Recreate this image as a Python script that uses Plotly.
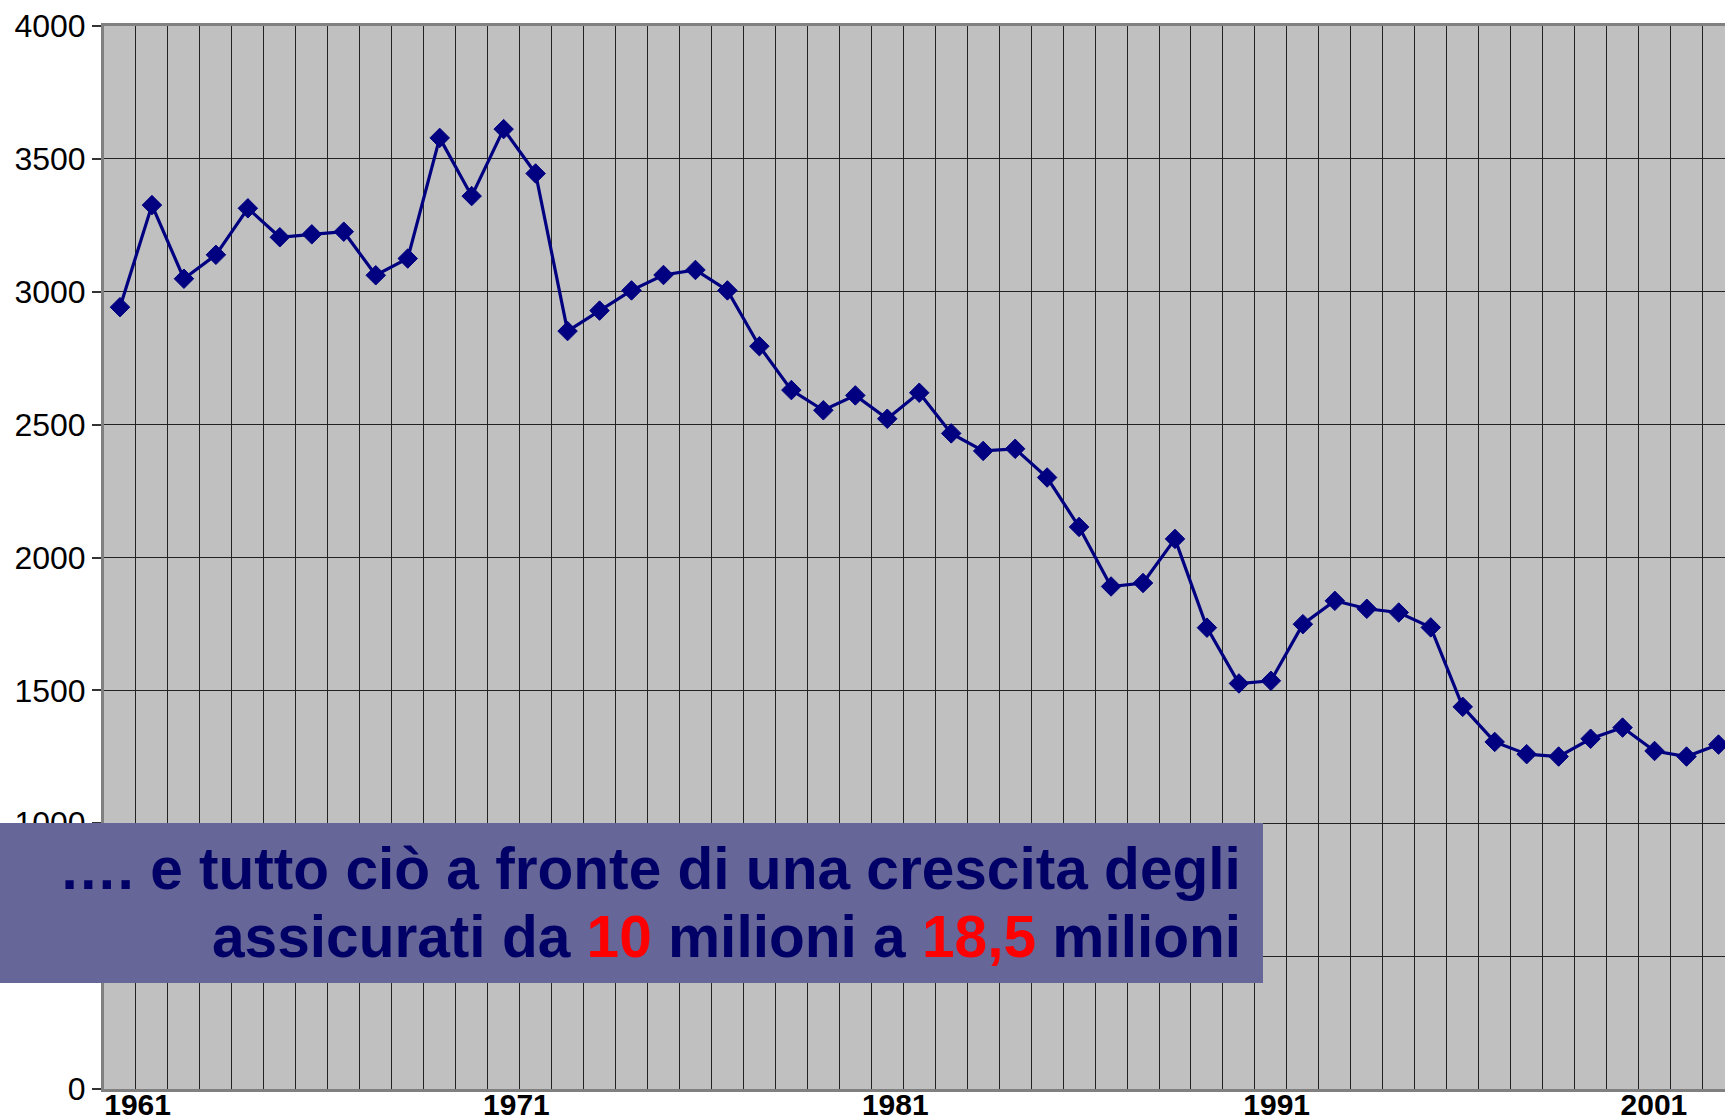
import plotly.graph_objects as go

# ---- data ----
values = [2942, 3326, 3049, 3139, 3314, 3205, 3216, 3226, 3062, 3125,
          3579, 3360, 3612, 3445, 2852, 2929, 3005, 3063, 3082, 3005,
          2795, 2630, 2554, 2610, 2522, 2620, 2467, 2401, 2409, 2301,
          2115, 1891, 1904, 2070, 1736, 1526, 1536, 1749, 1837, 1807,
          1793, 1737, 1438, 1306, 1260, 1251, 1318, 1360, 1272, 1251, 1296]
point_index = list(range(len(values)))

tick_labels = ["1961", "1971", "1981", "1991", "2001"]
tick_positions = [0.55, 12.4, 24.25, 36.18, 47.98]

y_ticks = [0, 500, 1000, 1500, 2000, 2500, 3000, 3500, 4000]

line1 = "…. e tutto ciò a fronte di una crescita degli"
line2 = ("assicurati da <span style='color:#FF0000'>10</span> milioni a "
         "<span style='color:#FF0000'>18,5</span> milioni")

# ---- layout geometry (pixels) ----
W, H = 1725, 1117
ML, MR, MT, MB = 104, 0, 26, 28
PW, PH = W - ML - MR, H - MT - MB


def px_x(p):
    return (p - ML) / PW


def px_y(p):
    return (H - MB - p) / PH


navy = "#000080"
grid = "#222222"
axis_gray = "#808080"
FONT = "Liberation Sans, Arial, sans-serif"

fig = go.Figure()
fig.add_trace(go.Scatter(
    x=point_index, y=values, mode="lines+markers",
    line=dict(color=navy, width=3.2),
    marker=dict(symbol="diamond", size=15, color=navy,
                line=dict(color=navy, width=1)),
    showlegend=False, hoverinfo="skip",
))
# invisible helper trace so that the label axis (x2) is drawn
fig.add_trace(go.Scatter(
    x=tick_positions, y=[0] * len(tick_positions), xaxis="x2", yaxis="y",
    mode="markers", marker=dict(opacity=0, size=1),
    showlegend=False, hoverinfo="skip",
))

xr = [-0.5, -0.5 + PW / 31.97]

fig.update_layout(
    width=W, height=H,
    margin=dict(l=ML, r=MR, t=MT, b=MB, pad=0),
    paper_bgcolor="white", plot_bgcolor="#C0C0C0",
    font=dict(family=FONT, color="black"),
    xaxis=dict(
        range=xr, tickmode="linear", tick0=-0.5, dtick=1,
        showticklabels=False, ticks="",
        showgrid=True, gridcolor=grid, gridwidth=1,
        showline=True, linecolor=axis_gray, linewidth=3, mirror=True,
        zeroline=False,
    ),
    xaxis2=dict(
        range=xr, overlaying="x", anchor="y", side="bottom",
        tickmode="array", tickvals=tick_positions, ticktext=tick_labels,
        tickfont=dict(family=FONT, size=30, color="black", weight="bold"),
        ticklabelstandoff=-5,
        ticks="", showgrid=False, showline=False, zeroline=False,
        automargin=False,
    ),
    yaxis=dict(
        range=[0, 4000], tickmode="array", tickvals=y_ticks,
        tickfont=dict(family=FONT, size=32, color="black"),
        ticks="outside", ticklen=9, tickwidth=1.5, tickcolor="#333333",
        showgrid=True, gridcolor=grid, gridwidth=1,
        showline=True, linecolor=axis_gray, linewidth=3,
        zeroline=False, automargin=False,
    ),
)

# text box
fig.add_shape(type="rect", xref="paper", yref="paper",
              x0=px_x(0), x1=px_x(1263), y0=px_y(983), y1=px_y(823),
              fillcolor="#666699", line=dict(width=0), layer="above")

for txt, base in ((line1, 888.7), (line2, 957.0)):
    fig.add_annotation(
        xref="paper", yref="paper", x=px_x(1243), y=px_y(base - 20.3),
        xanchor="right", yanchor="middle", showarrow=False,
        text=txt, align="right",
        font=dict(family=FONT, size=58.6, color="#000066", weight="bold"),
    )

fig.write_html(
    "out.html",
    config={"displayModeBar": False},
    post_script="document.body.style.margin='0';"
                "document.body.style.overflow='hidden';",
)
